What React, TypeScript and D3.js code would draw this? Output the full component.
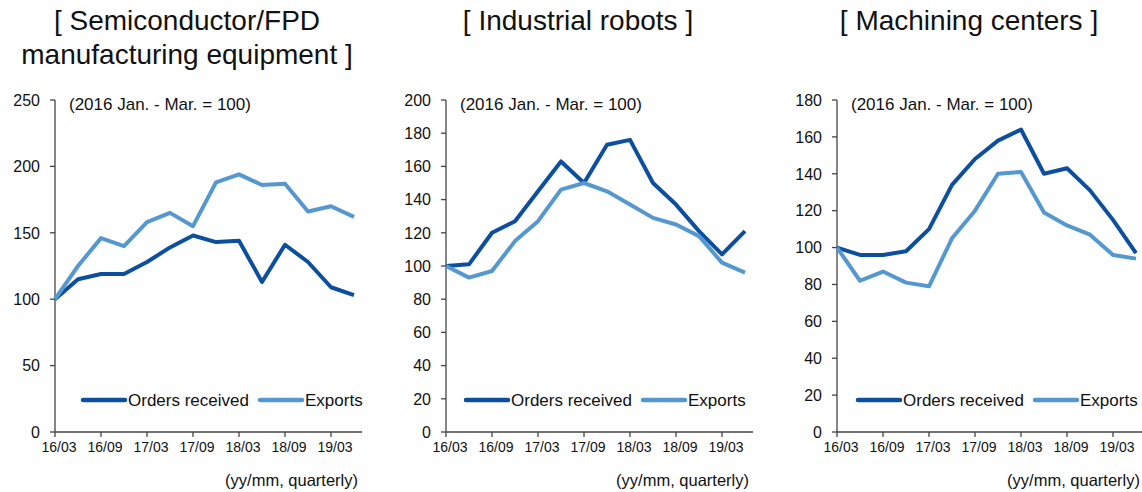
import React from "react";
import * as d3 from "d3";

// quarterly categories (yy/mm)
const quarters = ["16/03", "16/06", "16/09", "16/12", "17/03", "17/06", "17/09", "17/12", "18/03", "18/06", "18/09", "18/12", "19/03", "19/06"];
const tickLabels = ["16/03", "16/09", "17/03", "17/09", "18/03", "18/09", "19/03"];

const semiOrders = [100, 115, 119, 119, 128, 139, 148, 143, 144, 113, 141, 128, 109, 103];
const semiExports = [100, 125, 146, 140, 158, 165, 155, 188, 194, 186, 187, 166, 170, 162];
const robotOrders = [100, 101, 120, 127, 145, 163, 150, 173, 176, 150, 137, 121, 107, 121];
const robotExports = [100, 93, 97, 115, 127, 146, 150, 145, 137, 129, 125, 118, 102, 96];
const mcOrders = [100, 96, 96, 98, 110, 134, 148, 158, 164, 140, 143, 131, 115, 97];
const mcExports = [100, 82, 87, 81, 79, 105, 120, 140, 141, 119, 112, 107, 96, 94];

const semiTicks = [0, 50, 100, 150, 200, 250];
const robotTicks = [0, 20, 40, 60, 80, 100, 120, 140, 160, 180, 200];
const mcTicks = [0, 20, 40, 60, 80, 100, 120, 140, 160, 180];

const seriesNames = ["Orders received", "Exports"];
const colors = ["#0d4f9f", "#5598d0"];

const panels = [
  { title: ["[ Semiconductor/FPD", "manufacturing equipment ]"], orders: semiOrders, exports: semiExports, ticks: semiTicks, x0: 55, legendX: 28 },
  { title: ["[ Industrial robots ]"], orders: robotOrders, exports: robotExports, ticks: robotTicks, x0: 446, legendX: 20 },
  { title: ["[ Machining centers ]"], orders: mcOrders, exports: mcExports, ticks: mcTicks, x0: 837, legendX: 21 },
];

const FONT = "Liberation Sans, Arial, Helvetica, sans-serif";
const top = 100;
const bottom = 432;
const step = 23;

function Panel({ p }) {
  const x = d3.scalePoint().domain(quarters).range([p.x0, p.x0 + step * (quarters.length - 1)]);
  const y = d3.scaleLinear().domain([0, d3.max(p.ticks)]).range([bottom, top]);
  const axisEnd = p.x0 + 307;
  const line = d3.line<number>()
    .x((d, i) => x(quarters[i]))
    .y(d => y(d));
  const series = [p.orders, p.exports];
  const titleCx = p.x0 + 132;
  const lx = p.x0 + p.legendX;

  return (
    <g>
      {p.title.map((t, i) => (
        <text key={t} x={titleCx} y={30 + i * 34} textAnchor="middle" fontSize={28} fill="#111">{t}</text>
      ))}
      {/* y axis */}
      <line x1={p.x0} x2={p.x0} y1={top} y2={bottom} stroke="#444" strokeWidth={1.3} />
      {p.ticks.map(t => (
        <g key={t}>
          <line x1={p.x0 - 5} x2={p.x0} y1={y(t)} y2={y(t)} stroke="#444" strokeWidth={1.3} />
          <text x={p.x0 - 15} y={y(t)} dy="0.36em" textAnchor="end" fontSize={16} fill="#111">{t}</text>
        </g>
      ))}
      {/* x axis */}
      <line x1={p.x0} x2={axisEnd} y1={bottom} y2={bottom} stroke="#444" strokeWidth={1.3} />
      {tickLabels.map(t => (
        <g key={t}>
          <line x1={x(t)} x2={x(t)} y1={bottom} y2={bottom + 5} stroke="#444" strokeWidth={1.3} />
          <text x={x(t) + 4} y={bottom + 20} textAnchor="middle" fontSize={14} fill="#111">{t}</text>
        </g>
      ))}
      <text x={axisEnd - 4} y={486} textAnchor="end" fontSize={16.5} fill="#111">(yy/mm, quarterly)</text>
      <text x={p.x0 + 14} y={110} fontSize={17} fill="#111">(2016 Jan. - Mar. = 100)</text>
      {series.map((s, i) => (
        <path key={i} d={line(s)} fill="none" stroke={colors[i]} strokeWidth={4} strokeLinejoin="round" />
      ))}
      {/* legend */}
      {seriesNames.map((n, i) => {
        const ox = lx + i * 177;
        return (
          <g key={n}>
            <line x1={ox} x2={ox + 42} y1={400} y2={400} stroke={colors[i]} strokeWidth={4.5} strokeLinecap="round" />
            <text x={ox + 45} y={400} dy="0.36em" fontSize={17} fill="#111">{n}</text>
          </g>
        );
      })}
    </g>
  );
}

export default function App() {
  return (
    <svg width={1142} height={492} style={{ position: "absolute", left: 0, top: 0, background: "#fff" }} fontFamily={FONT}>
      <rect width={1142} height={492} fill="#fff" />
      {panels.map((p, i) => <Panel key={i} p={p} />)}
    </svg>
  );
}
